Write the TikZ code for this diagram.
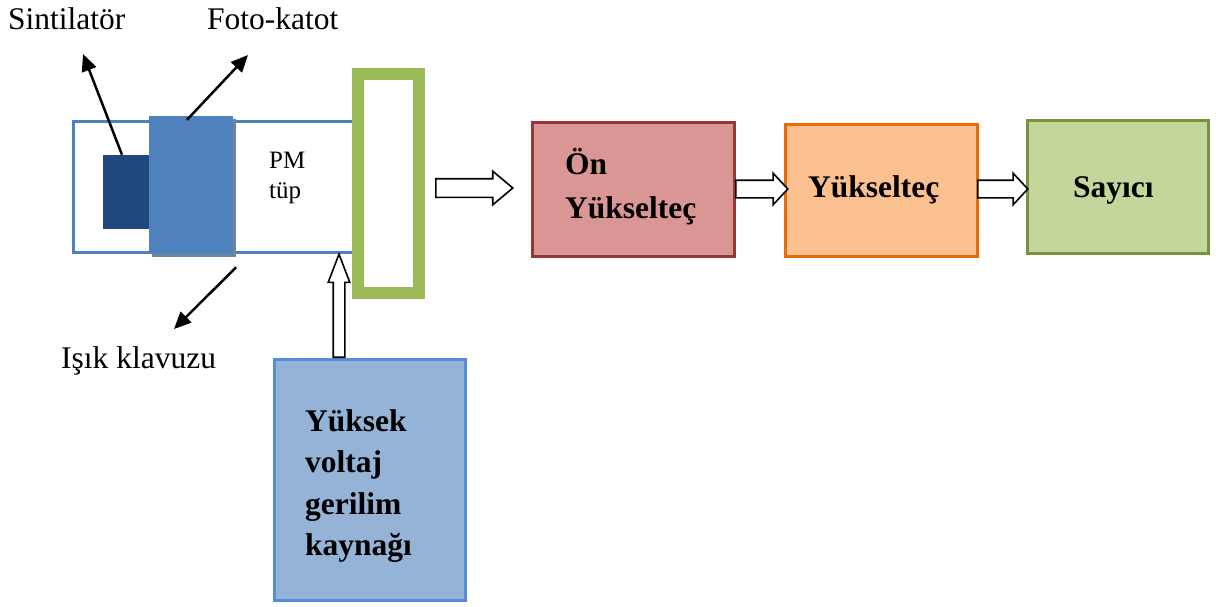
\documentclass[tikz,border=0pt]{standalone}
\usepackage{fontspec}
\setmainfont{Liberation Serif}
\usetikzlibrary{arrows.meta,shapes.arrows,calc}
\definecolor{tubeblue}{HTML}{4F81BD}
\definecolor{scintblue}{HTML}{1F497D}
\definecolor{shadowblue}{HTML}{6A879F}
\definecolor{guidegreen}{HTML}{9BBB59}
\definecolor{preampfill}{HTML}{D99694}
\definecolor{preampedge}{HTML}{953735}
\definecolor{ampfill}{HTML}{FAC090}
\definecolor{ampedge}{HTML}{E46C0A}
\definecolor{countfill}{HTML}{C3D69B}
\definecolor{countedge}{HTML}{77933C}
\definecolor{hvfill}{HTML}{95B3D7}
\definecolor{hvedge}{HTML}{558ED5}
\begin{document}
\begin{tikzpicture}[x=1pt,y=-1pt,
  lbl/.style={font=\fontsize{31.5}{36}\selectfont, inner sep=0pt, anchor=base west},
  small/.style={font=\fontsize{25}{30}\selectfont, inner sep=0pt, anchor=base west},
  blbl/.style={font=\fontsize{31.5}{41.5}\selectfont\bfseries, inner sep=0pt, anchor=base west},
  plain/.style={rectangle, inner sep=0pt},
  stage/.style={rectangle, inner sep=0pt, line width=3pt},
  pointer/.style={line width=2.5pt, -{Triangle[length=17pt,width=15pt]}},
  blockarrow/.style={single arrow, draw=black, fill=white, line width=1.6pt,
    inner sep=0pt, single arrow head indent=0pt}]
\useasboundingbox (0,0) rectangle (1216,606);

% photomultiplier assembly
\node[plain, draw=tubeblue, line width=3pt, minimum width=284.5pt, minimum height=131pt] (tube) at (215.75,187) {};
\node[plain, fill=scintblue, minimum width=50pt, minimum height=74pt] (scint) at (128,192) {};
\node[plain, fill=shadowblue, minimum width=84pt, minimum height=138pt] (cathshadow) at (194,188) {};
\node[plain, fill=tubeblue, minimum width=84pt, minimum height=138pt] (cathode) at (191,185) {};
\node[plain, draw=guidegreen, line width=12pt, minimum width=61pt, minimum height=219pt] (base) at (388.5,183.5) {};

\node[small] (pm) at (269,168) {PM};
\node[small] (tup) at (269,198) {tüp};

% labels and pointers
\node[lbl] (lscint) at (8,29) {Sintilatör};
\node[lbl] (lcath) at (207,29) {Foto-katot};
\node[lbl] (lguide) at (61,368) {Işık klavuzu};
\coordinate (tipscint) at (83,54);
\coordinate (tipcath) at (248,55);
\coordinate (tipguide) at (174,329);
\draw[pointer] ([xshift=-6pt]scint.north) -- (tipscint);
\draw[pointer] ($(cathode.north)+(-4,4)$) -- (tipcath);
\draw[pointer] ($(cathode.south east)+(3,13)$) -- (tipguide);

% electronics chain
\node[stage, draw=preampedge, fill=preampfill, minimum width=202pt, minimum height=134pt] (pre) at (633.5,189.5) {};
\node[blbl] (preA) at (565,174) {Ön};
\node[blbl] (preB) at (565,218) {Yükselteç};

\node[stage, draw=ampedge, fill=ampfill, minimum width=192pt, minimum height=132pt] (amp) at (881.5,190.5) {};
\node[blbl] (ampT) at (808,197) {Yükselteç};

\node[stage, draw=countedge, fill=countfill, minimum width=181pt, minimum height=133pt] (count) at (1118,187) {};
\node[blbl] (countT) at (1073,197) {Sayıcı};

\node[stage, draw=hvedge, fill=hvfill, minimum width=191pt, minimum height=241pt] (hv) at (370,480) {};
\node[blbl] (hvA) at (305,431) {Yüksek};
\node[blbl] (hvB) at (305,472.5) {voltaj};
\node[blbl] (hvC) at (305,514) {gerilim};
\node[blbl] (hvD) at (305,555.5) {kaynağı};

% hollow block arrows
\node[blockarrow, anchor=tail, minimum height=77pt, inner ysep=8.5pt,
  single arrow head extend=7.5pt, single arrow tip angle=80] (a1) at (435,188) {};
\node[blockarrow, anchor=tail, minimum height=52pt, inner ysep=8pt,
  single arrow head extend=7pt, single arrow tip angle=94] (a2) at (735,189) {};
\node[blockarrow, anchor=tail, minimum height=50pt, inner ysep=8pt,
  single arrow head extend=7pt, single arrow tip angle=94] (a3) at (977,189) {};
\node[blockarrow, anchor=tail, shape border rotate=90, minimum height=103pt, inner xsep=5pt,
  single arrow head extend=5pt, single arrow tip angle=42] (a4) at (hv.north -| 339,0) {};
\end{tikzpicture}
\end{document}
